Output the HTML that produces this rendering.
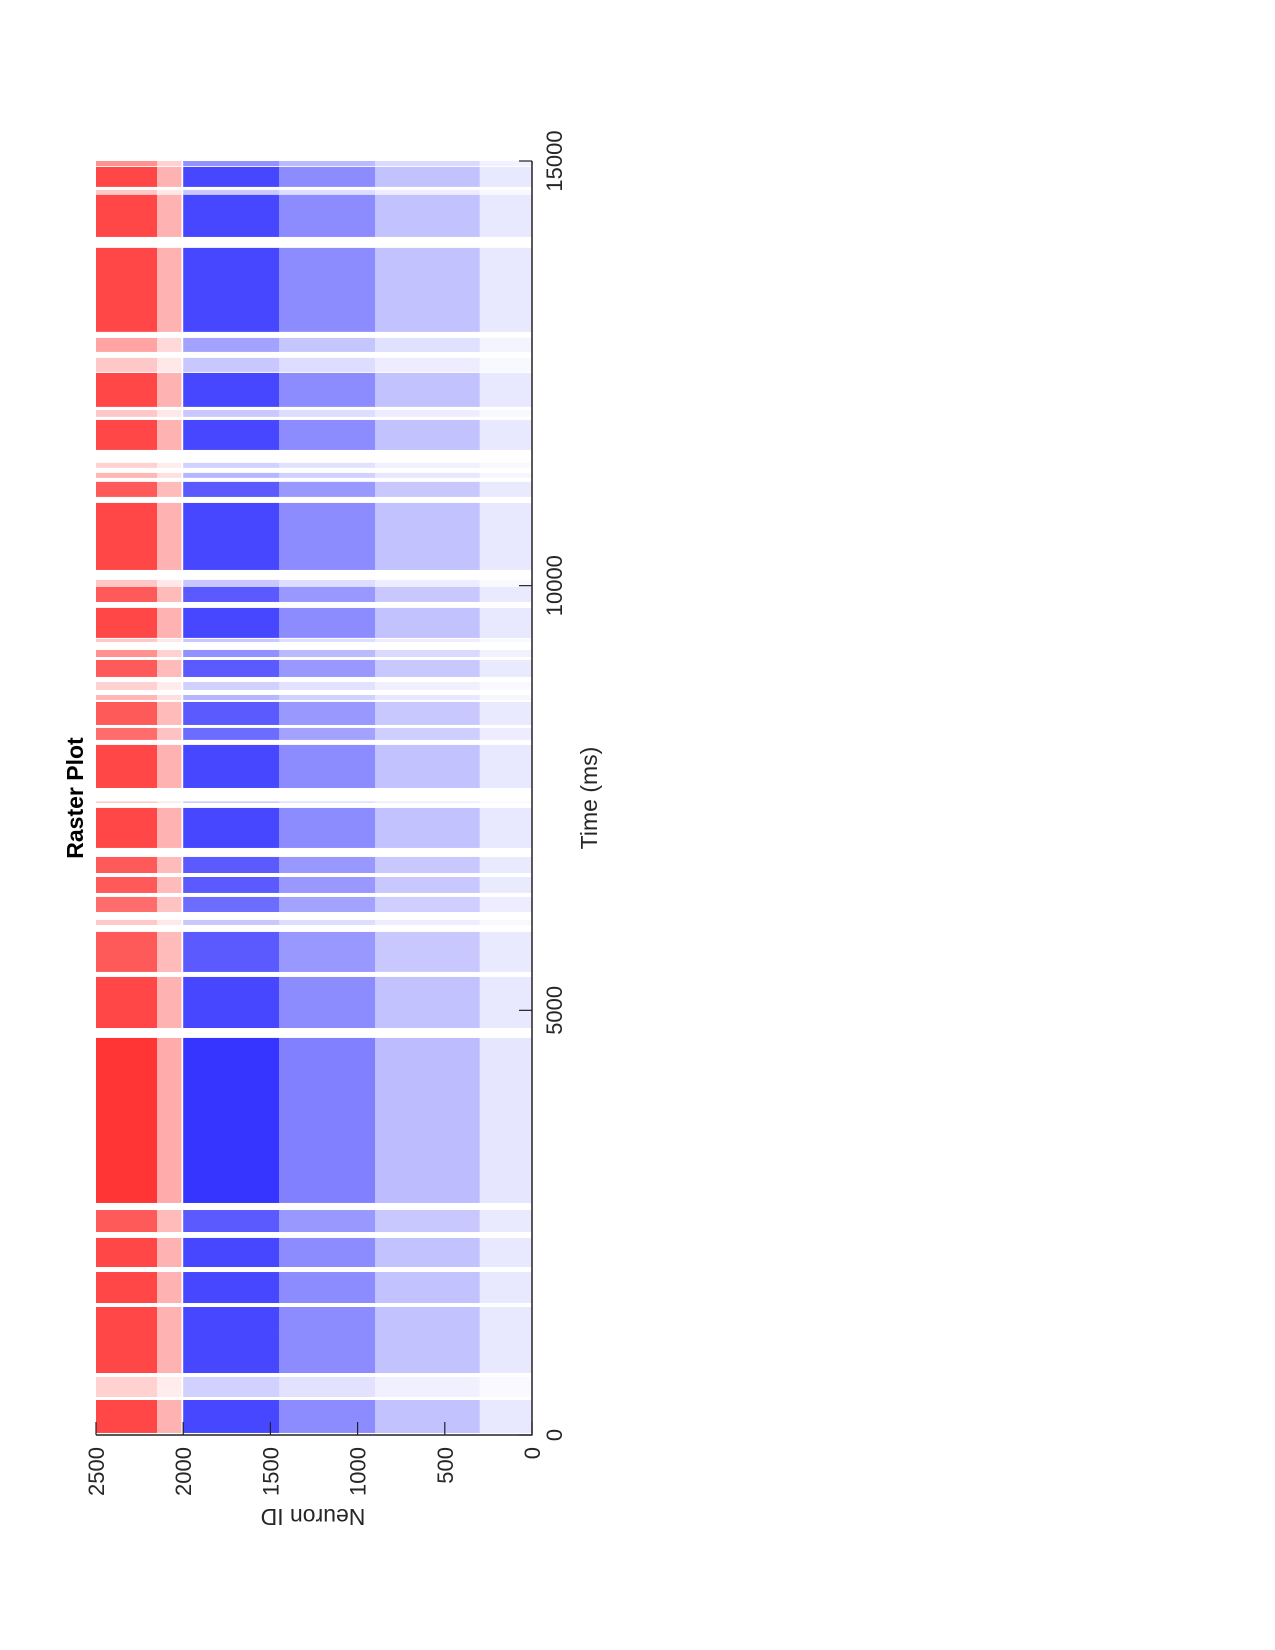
<!DOCTYPE html>
<html><head><meta charset="utf-8"><style>
html,body{margin:0;padding:0;background:#fff;}
svg{display:block;font-family:"Liberation Sans","DejaVu Sans",sans-serif;}
</style></head><body>
<svg id="chart" width="1275" height="1650" viewBox="0 0 1275 1650">
<g id="marks"></g>
<g id="axes"></g>
</svg>
<script>
// burst time intervals (ms) and relative intensity
const burstStart = [24,447,730,1201,1554,1978,2390,2732,4792,5452,6005,6158,6382,6617,6912,7442,7618,8184,8360,8654,8772,8925,9160,9337,9385,9808,9985,10185,11045,11269,11387,11598,11987,12105,12517,12752,12988,14106,14601,14695,14940];
const burstEnd   = [412,683,1201,1507,1919,2320,2649,4675,5393,5923,6064,6335,6570,6806,7383,7460,8125,8325,8631,8713,8866,9125,9243,9373,9738,9985,10068,10974,11222,11328,11446,11951,12069,12505,12682,12917,13977,14601,14660,14930,15000];
const burstIntensity = [1,0.25,1,1,1,1,0.9,1.1,1,0.9,0.3,0.8,0.9,0.9,1,0.3,1,0.8,0.9,0.4,0.25,0.9,0.6,0.3,1,0.9,0.3,1,0.9,0.4,0.25,1,0.3,1,0.3,0.5,1,1,0.3,1,0.6];
// neuron population bands
const bandLow  = [2150,2010,1450,900,300,0];
const bandHigh = [2500,2150,2000,1450,900,300];
const bandDensity = [0.72,0.3,0.72,0.45,0.24,0.09];
const bandExcit = [false,false,true,true,true,true];
const timeTicks = [0,5000,10000,15000];
const neuronTicks = [2500,2000,1500,1000,500,0];

const X0=96, X1=532, Y0=1435, Y1=161;
const xScale = n => X1 - (n/2500)*(X1-X0);
const yScale = t => Y0 - (t/15000)*(Y0-Y1);
const NS='http://www.w3.org/2000/svg';
const marks=document.getElementById('marks');
const axes=document.getElementById('axes');
function mk(tag,parent){const e=document.createElementNS(NS,tag);parent.appendChild(e);return e;}

for(let i=0;i<burstStart.length;i++){
  for(let b=0;b<bandLow.length;b++){
    const r=mk('rect',marks);
    
    
    const xa=xScale(bandHigh[b]), xb=xScale(bandLow[b]);
    const ya=yScale(burstEnd[i]), yb=yScale(burstStart[i]);
    r.setAttribute('x',xa);r.setAttribute('y',ya);
    r.setAttribute('width',xb-xa);r.setAttribute('height',Math.max(1.5,yb-ya));
    r.setAttribute('fill',bandExcit[b]?'#0000ff':'#ff0000');
    r.setAttribute('fill-opacity',Math.min(1,bandDensity[b]*burstIntensity[i]));
  }
}
// spines
const s1=mk('line',axes);


s1.setAttribute('x1',X1);s1.setAttribute('x2',X1);s1.setAttribute('y1',Y1);s1.setAttribute('y2',Y0+0.5);
s1.setAttribute('stroke','#222');s1.setAttribute('stroke-width','1.5');
const s2=mk('line',axes);


s2.setAttribute('x1',X0);s2.setAttribute('x2',X1);s2.setAttribute('y1',Y0);s2.setAttribute('y2',Y0);
s2.setAttribute('stroke','#222');s2.setAttribute('stroke-width','1.5');
timeTicks.forEach(t=>{
  const y=yScale(t);
  const l=mk('line',axes);
  
  
  l.setAttribute('x1',X1-13);l.setAttribute('x2',X1);l.setAttribute('y1',y);l.setAttribute('y2',y);
  l.setAttribute('stroke','#222');l.setAttribute('stroke-width','1.2');
  const tx=mk('text',axes);
  
  
  tx.setAttribute('transform','translate(562,'+y+') rotate(-90)');
  tx.setAttribute('text-anchor','middle');tx.setAttribute('font-size','22');tx.setAttribute('fill','#262626');
  tx.textContent=t;
});
neuronTicks.forEach(n=>{
  const x=xScale(n);
  const l=mk('line',axes);
  
  
  l.setAttribute('x1',x);l.setAttribute('x2',x);l.setAttribute('y1',Y0-13);l.setAttribute('y2',Y0);
  l.setAttribute('stroke','#222');l.setAttribute('stroke-width','1.2');
  const tx=mk('text',axes);
  
  
  tx.setAttribute('transform','translate('+(x+8)+',1447) rotate(-90)');
  tx.setAttribute('text-anchor','end');tx.setAttribute('font-size','22');tx.setAttribute('fill','#262626');
  tx.textContent=n;
});
</script>
<div style="position:absolute;left:0;top:0;width:1275px;height:1650px;pointer-events:none;">
<svg width="1275" height="1650" style="position:absolute;left:0;top:0;font-family:'Liberation Sans','DejaVu Sans',sans-serif;">
<text transform="translate(83,798) rotate(-90)" text-anchor="middle" font-size="23" font-weight="bold" fill="#000">Raster Plot</text>
<text transform="translate(597,798) rotate(-90)" text-anchor="middle" font-size="23" fill="#262626">Time (ms)</text>
<text transform="translate(313,1509) rotate(180)" text-anchor="middle" font-size="23" fill="#262626">Neuron ID</text>
</svg>
</div>
</body></html>
